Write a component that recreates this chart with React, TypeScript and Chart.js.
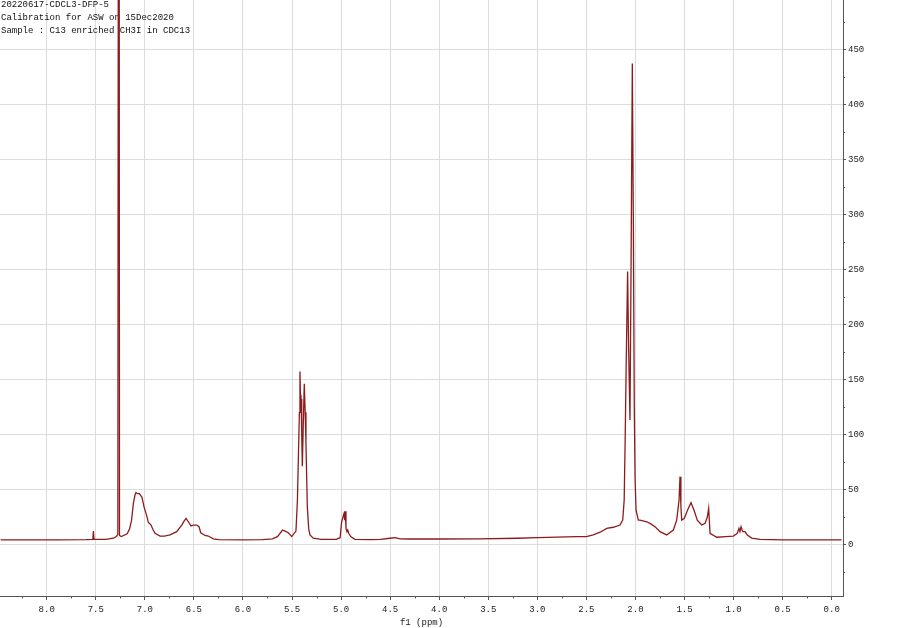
import React, { useEffect, useRef } from 'react';
import { Chart, registerables } from 'chart.js';

Chart.register(...registerables);

const headerLines = [
  '20220617-CDCL3-DFP-5',
  'Calibration for ASW on 15Dec2020',
  'Sample : C13 enriched CH3I in CDC13',
];

// chemical shift (ppm), descending
const shifts = [
  8.47, 8.2, 7.9, 7.6, 7.53, 7.524, 7.518, 7.4, 7.32, 7.29, 7.275, 7.265, 7.258, 7.24,
  7.18, 7.155, 7.135, 7.117, 7.1, 7.09, 7.075, 7.056, 7.03, 7.008, 6.991, 6.975, 6.965,
  6.937, 6.915, 6.896, 6.845, 6.8, 6.743, 6.675, 6.624, 6.6, 6.58, 6.557, 6.53, 6.506,
  6.471, 6.448, 6.43, 6.387, 6.353, 6.302, 6.25, 6.0, 5.8, 5.7, 5.648, 5.597, 5.57, 5.538,
  5.503, 5.46, 5.445, 5.436, 5.425, 5.419, 5.413, 5.408, 5.401, 5.395, 5.385, 5.375,
  5.366, 5.358, 5.344, 5.33, 5.317, 5.283, 5.2, 5.05, 5.01, 4.995, 4.983, 4.977, 4.97,
  4.963, 4.957, 4.95, 4.94, 4.932, 4.922, 4.902, 4.858, 4.7, 4.6, 4.5, 4.45, 4.4, 4.3,
  4.0, 3.6, 3.2, 3.0, 2.8, 2.6, 2.5, 2.43, 2.36, 2.293, 2.226, 2.157, 2.13, 2.115, 2.105,
  2.095, 2.08, 2.07, 2.056, 2.045, 2.032, 2.022, 2.012, 2.004, 1.994, 1.971, 1.954, 1.885,
  1.852, 1.8, 1.75, 1.682, 1.614, 1.58, 1.556, 1.546, 1.537, 1.529, 1.502, 1.461, 1.434,
  1.403, 1.37, 1.325, 1.291, 1.268, 1.254, 1.24, 1.172, 1.08, 1.003, 0.962, 0.945, 0.935,
  0.924, 0.907, 0.884, 0.86, 0.815, 0.73, 0.5, 0.2, -0.1,
];

// intensity
const intensities = [
  4, 4, 4, 4.2, 4.5, 12, 4.5, 4.5, 5.5, 7, 9, 1200, 8, 7,
  9.5, 14, 22, 37, 45, 47, 46, 46, 43, 34, 29, 24, 20,
  17.5, 13, 10, 7.5, 7.5, 8.5, 11.5, 17.5, 21, 23.5, 20.5, 16.6, 17.5,
  17.5, 16, 10.5, 8, 7.5, 5, 4.2, 4, 4.3, 5, 7, 13, 12, 10.5,
  7, 12, 40, 76, 120, 157, 130, 132, 100, 71, 110, 146,
  120, 92, 34, 14, 8.5, 5.5, 4.5, 4.5, 6, 20, 24, 26, 28,
  22, 30, 14.5, 11.5, 13, 10, 7, 4.5, 4.3, 4.5, 5.5, 6, 5, 4.8,
  4.8, 5, 5.5, 6, 6.5, 7, 7, 8.5, 11, 14.5, 15.5, 17.5, 22, 40, 95,
  160, 248, 180, 113, 250, 437, 300, 125, 60, 31, 22, 22, 20.5,
  19, 16, 11.5, 8.5, 13, 22, 40, 61.5, 35, 22, 23.6, 32.7, 37.8,
  31, 22, 17.5, 19, 24.5, 32.7, 10, 6.4, 7, 7.5, 10, 14.5, 11.5,
  16, 11.5, 11.5, 8.5, 5.7, 4.5, 4, 4, 4,
];

const xMin = -0.115;
const xMax = 8.476;
const xStep = 0.5;
const yMin = -47;
const yMax = 494.8;
const yStep = 50;
const xTitle = 'f1 (ppm)';

const LINE_COLOR = '#8c1c1c';
const GRID_COLOR = '#dcdcdc';
const AXIS_COLOR = '#555555';
const TEXT_COLOR = '#222222';
const FONT = 'Liberation Mono';

const headerPlugin = {
  id: 'headerText',
  beforeDatasetsDraw(chart: any) {
    const ctx = chart.ctx;
    ctx.save();
    ctx.font = `9px "${FONT}"`;
    ctx.fillStyle = '#111111';
    ctx.textAlign = 'left';
    ctx.textBaseline = 'middle';
    headerLines.forEach((t, i) => ctx.fillText(t, 1, 5 + i * 12.6));
    ctx.restore();
  },
};

const minorTicksPlugin = {
  id: 'minorTicks',
  afterDraw(chart: any) {
    const ctx = chart.ctx;
    const xs = chart.scales.x;
    const ys = chart.scales.y;
    ctx.save();
    ctx.strokeStyle = AXIS_COLOR;
    ctx.lineWidth = 1;
    ctx.beginPath();
    for (let v = xStep / 2; v <= xMax; v += xStep) {
      const px = Math.round(xs.getPixelForValue(v)) + 0.5;
      ctx.moveTo(px, xs.top);
      ctx.lineTo(px, xs.top + 2.5);
    }
    for (let v = -yStep / 2; v <= yMax; v += yStep) {
      if (v < yMin) continue;
      const py = Math.round(ys.getPixelForValue(v)) + 0.5;
      ctx.moveTo(ys.left, py);
      ctx.lineTo(ys.left + 2, py);
    }
    ctx.stroke();
    ctx.restore();
  },
};

export default function App() {
  const ref = useRef<HTMLCanvasElement>(null);

  useEffect(() => {
    const chart = new Chart(ref.current as HTMLCanvasElement, {
      type: 'line',
      data: {
        datasets: [
          {
            data: shifts.map((x, i) => ({ x, y: intensities[i] })),
            borderColor: LINE_COLOR,
            borderWidth: 1.3,
            pointRadius: 0,
            tension: 0,
            fill: false,
          },
        ],
      },
      options: {
        responsive: false,
        animation: false,
        layout: { padding: 0 },
        plugins: { legend: { display: false }, tooltip: { enabled: false } },
        scales: {
          x: {
            type: 'linear',
            reverse: true,
            min: xMin,
            max: xMax,
            position: 'bottom',
            afterFit: (s: any) => {
              s.height = 32;
              s.paddingLeft = 0;
              s.paddingRight = 0;
            },
            grid: {
              color: GRID_COLOR,
              lineWidth: 1,
              drawTicks: true,
              tickLength: 4,
              tickColor: AXIS_COLOR,
              tickWidth: 1,
            },
            border: { display: true, color: AXIS_COLOR, width: 1 },
            ticks: {
              stepSize: xStep,
              includeBounds: false,
              autoSkip: false,
              maxRotation: 0,
              color: TEXT_COLOR,
              font: { family: FONT, size: 9 },
              padding: 4,
              callback: (v: any) => Number(v).toFixed(1),
            },
            title: {
              display: true,
              text: xTitle,
              color: TEXT_COLOR,
              font: { family: FONT, size: 9 },
              padding: { top: 0, bottom: 0 },
            },
          },
          y: {
            type: 'linear',
            position: 'right',
            min: yMin,
            max: yMax,
            afterFit: (s: any) => {
              s.width = 57;
              s.paddingTop = 0;
              s.paddingBottom = 0;
            },
            grid: {
              color: GRID_COLOR,
              lineWidth: 1,
              drawTicks: true,
              tickLength: 3,
              tickColor: AXIS_COLOR,
              tickWidth: 1,
            },
            border: { display: true, color: AXIS_COLOR, width: 1 },
            ticks: {
              stepSize: yStep,
              includeBounds: false,
              color: TEXT_COLOR,
              font: { family: FONT, size: 9 },
              padding: 2,
            },
          },
        },
      },
      plugins: [headerPlugin, minorTicksPlugin],
    } as any);
    return () => chart.destroy();
  }, []);

  return (
    <div style={{ position: 'absolute', left: 0, top: 0, width: 900, height: 628 }}>
      <canvas ref={ref} width={900} height={628} style={{ display: 'block' }} />
    </div>
  );
}
